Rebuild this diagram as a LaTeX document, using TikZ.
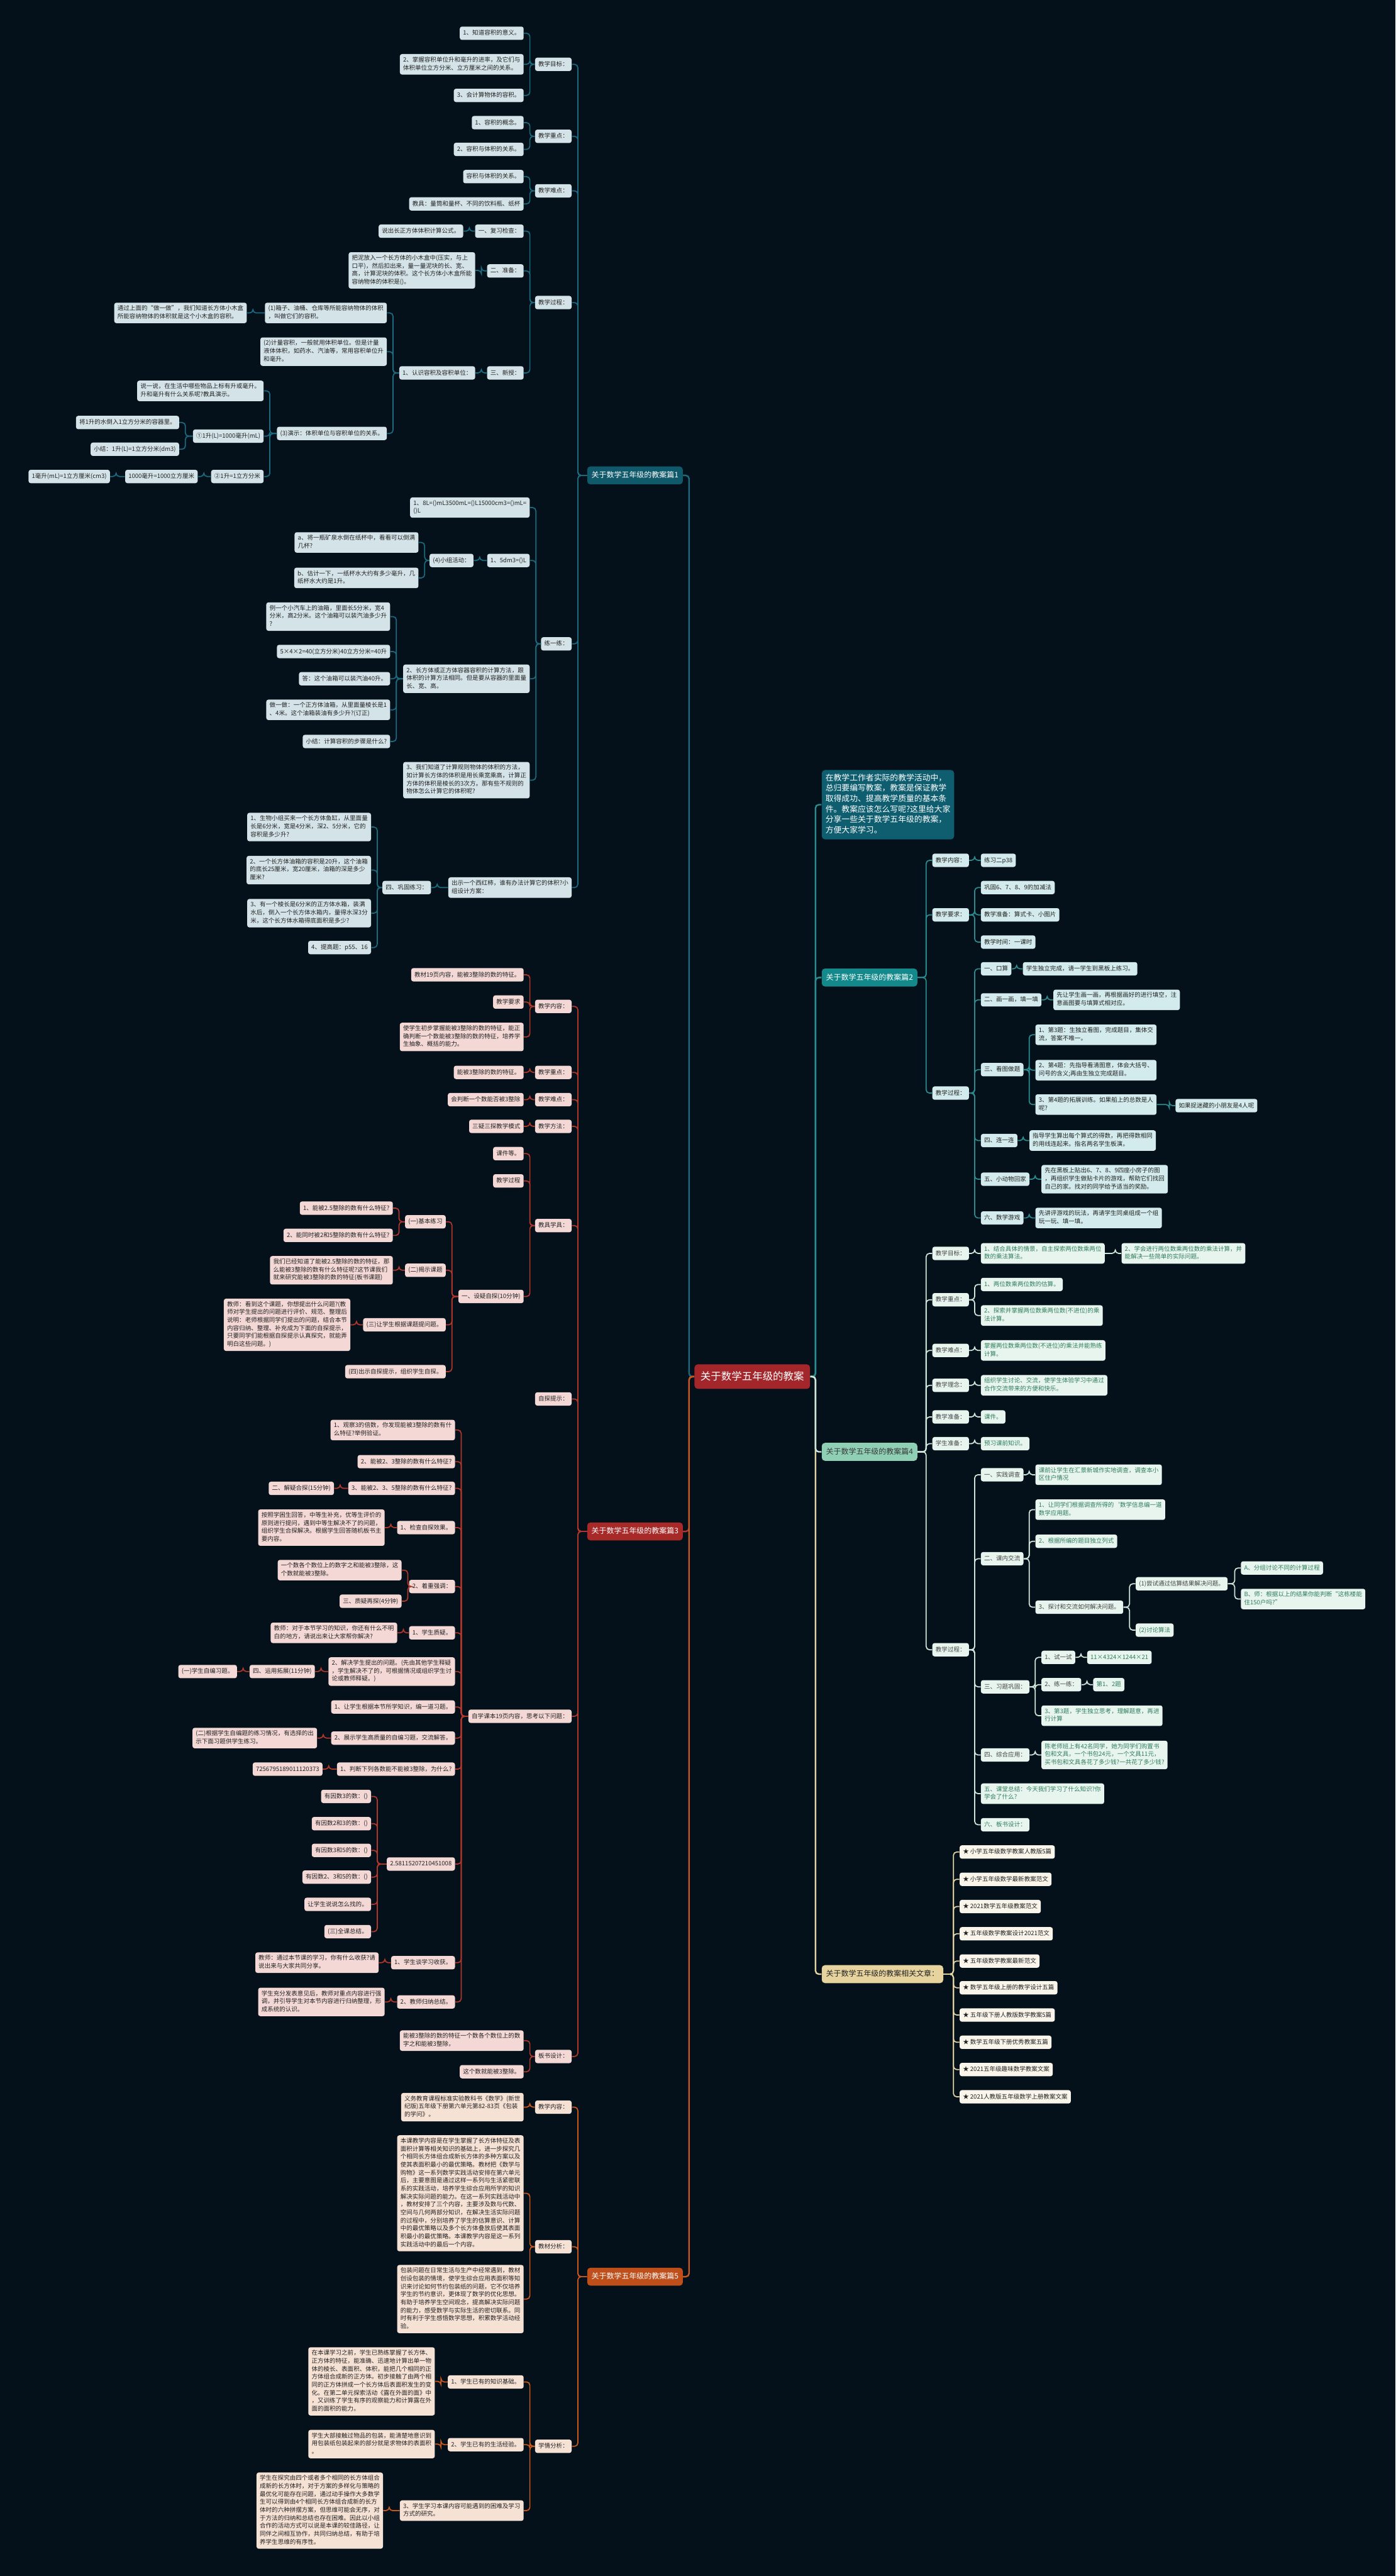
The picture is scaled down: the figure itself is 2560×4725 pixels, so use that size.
\documentclass[tikz,border=0pt]{standalone}
\usepackage{fontspec}
\setmainfont{Noto Sans CJK SC}
\usetikzlibrary{calc}
\definecolor{bgc}{HTML}{04111A}
\definecolor{rootc}{HTML}{A3262B}
\definecolor{tx}{HTML}{222222}
\definecolor{k1}{HTML}{1B6A7E}\definecolor{f1}{HTML}{D4E3E8}\definecolor{h1}{HTML}{10596A}
\definecolor{k2}{HTML}{2A8C8E}\definecolor{f2}{HTML}{D3EBEC}\definecolor{h2}{HTML}{13898B}
\definecolor{ic}{HTML}{0E5E70}
\definecolor{k3}{HTML}{B2372B}\definecolor{f3}{HTML}{F3D8D5}\definecolor{h3}{HTML}{A82A28}
\definecolor{k4}{HTML}{CFE6DA}\definecolor{f4}{HTML}{E8F5EF}\definecolor{t4}{HTML}{2E7D5B}\definecolor{h4}{HTML}{8FD0B5}
\definecolor{k5}{HTML}{C8581F}\definecolor{f5}{HTML}{F6E1D5}\definecolor{h5}{HTML}{BF4F1A}
\definecolor{k6}{HTML}{E3D3A3}\definecolor{f6}{HTML}{FAF5EA}\definecolor{h6}{HTML}{E6D39E}
\newcommand\msA{\rule[-1.85pt]{0pt}{7.25pt}}
\newcommand\msB{\rule[-2.2pt]{0pt}{8.8pt}}
\newcommand\msC{\rule[-2.4pt]{0pt}{9.6pt}}
\newcommand\msD{\rule[-2.9pt]{0pt}{12.1pt}}
\tikzset{
 nd/.style={rounded corners=2pt, inner xsep=3pt, inner ysep=2.5pt, align=left,
   font=\fontsize{5.5}{7.3}\selectfont, text=tx, execute at begin node=\msA, execute at end node=\msA},
 n1/.style={nd, fill=f1}, n2/.style={nd, fill=f2}, n3/.style={nd, fill=f3},
 n4/.style={nd, fill=f4, text=t4}, n4d/.style={nd, fill=f4, text=tx!85},
 n5/.style={nd, fill=f5}, n6/.style={nd, fill=f6},
 br/.style={rounded corners=3pt, inner xsep=4pt, inner ysep=3.85pt,
   font=\fontsize{6.9}{8.8}\selectfont, text=white, execute at begin node=\msB},
 rootbox/.style={rounded corners=3pt, fill=rootc, inner xsep=5.5pt, inner ysep=5.2pt,
   font=\fontsize{9.5}{12}\selectfont, text=white, execute at begin node=\msD},
 introbox/.style={rounded corners=3pt, fill=ic, inner xsep=3.5pt, inner ysep=3.45pt, align=left,
   font=\fontsize{7.4}{9.6}\selectfont, text=white, execute at begin node=\msC, execute at end node=\msC},
 L/.style={anchor=east}, R/.style={anchor=west},
 lc/.style={rounded corners=3pt, line width=1pt, to path={(\tikztostart) -| ($(\tikztotarget)+(11,0)$) -- (\tikztotarget)}},
 rc/.style={rounded corners=3pt, line width=1pt, to path={(\tikztostart) -| ($(\tikztotarget)+(-11,0)$) -- (\tikztotarget)}}
}
\newcommand\lks[3]{\foreach \q in {#3}{\draw[#1,lc] (#2.west) to (\q.east);}}
\newcommand\rks[3]{\foreach \q in {#3}{\draw[#1,rc] (#2.east) to (\q.west);}}
\begin{document}
\begin{tikzpicture}[x=0.5pt,y=-0.5pt]
\fill[bgc] (0,0) rectangle (2560,4725);
\useasboundingbox (0,0) rectangle (2560,4725);

\node[rootbox] (root) at (1380,2525) {关于数学五年级的教案};

% ===== 篇1 =====
\node[br, fill=h1, L] (P1) at (1253,872) {关于数学五年级的教案篇1};
\node[n1,L] (A1) at (1049,118) {教学目标：};
\node[n1,L] (A2) at (1049,250) {教学重点：};
\node[n1,L] (A3) at (1049,350) {教学难点：};
\node[n1,L] (A4) at (1049,555) {教学过程：};
\node[n1,L] (A5) at (1049,1181) {练一练：};
\node[n1,L] (A6) at (1049,1628) {出示一个西红柿，谁有办法计算它的体积?小\\组设计方案：};
\node[n1,L] (A11) at (961,61) {1、知道容积的意义。};
\node[n1,L] (A12) at (961,118) {2、掌握容积单位升和毫升的进率，及它们与\\体积单位立方分米、立方厘米之间的关系。};
\node[n1,L] (A13) at (961,175) {3、会计算物体的容积。};
\node[n1,L] (A21) at (961,225) {1、容积的概念。};
\node[n1,L] (A22) at (961,274) {2、容积与体积的关系。};
\node[n1,L] (A31) at (961,324) {容积与体积的关系。};
\node[n1,L] (A32) at (961,374) {教具：量筒和量杯、不同的饮料瓶、纸杯};
\node[n1,L] (A41) at (961,424) {一、复习检查：};
\node[n1,L] (A42) at (961,497) {二、准备：};
\node[n1,L] (A43) at (961,684) {三、新授：};
\node[n1,L] (A411) at (850,424) {说出长正方体体积计算公式。};
\node[n1,L] (A421) at (872,496) {把泥放入一个长方体的小木盒中(压实，与上\\口平)，然后扣出来，量一量泥块的长、宽、\\高，计算泥块的体积。这个长方体小木盒所能\\容纳物体的体积是()。};
\node[n1,L] (A431) at (872,684) {1、认识容积及容积单位：};
\node[n1,L] (B1) at (710,574) {(1)箱子、油桶、仓库等所能容纳物体的体积\\，叫做它们的容积。};
\node[n1,L] (B2) at (710,645) {(2)计量容积，一般就用体积单位。但是计量\\液体体积，如药水、汽油等，常用容积单位升\\和毫升。};
\node[n1,L] (B3) at (710,795) {(3)演示：体积单位与容积单位的关系。};
\node[n1,L] (B11) at (453,574) {通过上面的“做一做”，我们知道长方体小木盒\\所能容纳物体的体积就是这个小木盒的容积。};
\node[n1,L] (B31) at (484,717) {说一说，在生活中哪些物品上标有升或毫升。\\升和毫升有什么关系呢?教具演示。};
\node[n1,L] (B32) at (484,800) {①1升(L)=1000毫升(mL)};
\node[n1,L] (B33) at (484,874) {②1升=1立方分米};
\node[n1,L] (B321) at (329,775) {将1升的水倒入1立方分米的容器里。};
\node[n1,L] (B322) at (329,824) {小结：1升(L)=1立方分米(dm3)};
\node[n1,L] (B331) at (363,874) {1000毫升=1000立方厘米};
\node[n1,L] (B332) at (202,874) {1毫升(mL)=1立方厘米(cm3)};
\node[n1,L] (C1) at (972,931) {1、8L=()mL3500mL=()L15000cm3=()mL=\\()L};
\node[n1,L] (C2) at (972,1028) {1、5dm3=()L};
\node[n1,L] (C3) at (972,1245) {2、长方体或正方体容器容积的计算方法，跟\\体积的计算方法相同。但是要从容器的里面量\\长、宽、高。};
\node[n1,L] (C4) at (972,1431) {3、我们知道了计算规则物体的体积的方法，\\如计算长方体的体积是用长乘宽乘高，计算正\\方体的体积是棱长的3次方。那有些不规则的\\物体怎么计算它的体积呢?};
\node[n1,L] (C21) at (869,1028) {(4)小组活动：};
\node[n1,L] (C211) at (768,995) {a、将一瓶矿泉水倒在纸杯中，看看可以倒满\\几杯?};
\node[n1,L] (C212) at (768,1060) {b、估计一下，一纸杯水大约有多少毫升，几\\纸杯水大约是1升。};
\node[n1,L] (C31) at (716,1131) {例一个小汽车上的油箱，里面长5分米，宽4\\分米，高2分米。这个油箱可以装汽油多少升\\?};
\node[n1,L] (C32) at (716,1195) {5×4×2=40(立方分米)40立方分米=40升};
\node[n1,L] (C33) at (716,1245) {答：这个油箱可以装汽油40升。};
\node[n1,L] (C34) at (716,1302) {做一做：一个正方体油箱，从里面量棱长是1\\、4米。这个油箱装油有多少升?(订正)};
\node[n1,L] (C35) at (716,1360) {小结：计算容积的步骤是什么?};
\node[n1,L] (D1) at (791,1628) {四、巩固练习：};
\node[n1,L] (D11) at (681,1517) {1、生物小组买来一个长方体鱼缸，从里面量\\长是6分米，宽是4分米，深2、5分米，它的\\容积是多少升?};
\node[n1,L] (D12) at (681,1596) {2、一个长方体油箱的容积是20升，这个油箱\\的底长25厘米，宽20厘米，油箱的深是多少\\厘米?};
\node[n1,L] (D13) at (681,1675) {3、有一个棱长是6分米的正方体水箱，装满\\水后，倒入一个长方体水箱内，量得水深3分\\米，这个长方体水箱得底面积是多少?};
\node[n1,L] (D14) at (681,1738) {4、提高题：p55、16};

\lks{k1}{P1}{A1,A2,A3,A4,A5,A6}
\lks{k1}{A1}{A11,A12,A13}
\lks{k1}{A2}{A21,A22}
\lks{k1}{A3}{A31,A32}
\lks{k1}{A4}{A41,A42,A43}
\lks{k1}{A41}{A411}
\lks{k1}{A42}{A421}
\lks{k1}{A43}{A431}
\lks{k1}{A431}{B1,B2,B3}
\lks{k1}{B1}{B11}
\lks{k1}{B3}{B31,B32,B33}
\lks{k1}{B32}{B321,B322}
\lks{k1}{B33}{B331}
\lks{k1}{B331}{B332}
\lks{k1}{A5}{C1,C2,C3,C4}
\lks{k1}{C2}{C21}
\lks{k1}{C21}{C211,C212}
\lks{k1}{C3}{C31,C32,C33,C34,C35}
\lks{k1}{A6}{D1}
\lks{k1}{D1}{D11,D12,D13,D14}

% ===== 篇3 =====
\node[br, fill=h3, L] (P3) at (1253,2809) {关于数学五年级的教案篇3};
\node[n3,L] (E1) at (1049,1846) {教学内容：};
\node[n3,L] (E2) at (1049,1967) {教学重点：};
\node[n3,L] (E3) at (1049,2017) {教学难点：};
\node[n3,L] (E4) at (1049,2066) {教学方法：};
\node[n3,L] (E5) at (1049,2248) {教具学具：};
\node[n3,L] (E6) at (1049,2566) {自探提示：};
\node[n3,L] (E7) at (1049,3148) {自学课本19页内容，思考以下问题：};
\node[n3,L] (E8) at (1049,3772) {板书设计：};
\node[n3,L] (E11) at (961,1788) {教材19页内容，能被3整除的数的特征。};
\node[n3,L] (E12) at (961,1838) {教学要求};
\node[n3,L] (E13) at (961,1902) {使学生初步掌握能被3整除的数的特征，能正\\确判断一个数能被3整除的数的特征，培养学\\生抽象、概括的能力。};
\node[n3,L] (E21) at (961,1967) {能被3整除的数的特征。};
\node[n3,L] (E31) at (961,2017) {会判断一个数能否被3整除};
\node[n3,L] (E41) at (961,2066) {三疑三探教学模式};
\node[n3,L] (E51) at (961,2116) {课件等。};
\node[n3,L] (E52) at (961,2166) {教学过程};
\node[n3,L] (E53) at (961,2378) {一、设疑自探(10分钟)};
\node[n3,L] (F1) at (818,2241) {(一)基本练习};
\node[n3,L] (F2) at (818,2330) {(二)揭示课题};
\node[n3,L] (F3) at (818,2430) {(三)让学生根据课题提问题。};
\node[n3,L] (F4) at (818,2516) {(四)出示自探提示，组织学生自探。};
\node[n3,L] (F11) at (721,2216) {1、能被2.5整除的数有什么特征?};
\node[n3,L] (F12) at (721,2266) {2、能同时被2和5整除的数有什么特征?};
\node[n3,L] (F21) at (721,2330) {我们已经知道了能被2.5整除的数的特征，那\\么能被3整除的数有什么特征呢?这节课我们\\就来研究能被3整除的数的特征(板书课题)};
\node[n3,L] (F31) at (643,2430) {教师：看到这个课题，你想提出什么问题?(教\\师对学生提出的问题进行评价、规范、整理后\\说明：老师根据同学们提出的问题，结合本节\\内容归纳、整理、补充成为下面的自探提示，\\只要同学们能根据自探提示认真探究，就能弄\\明白这些问题。)};
\node[n3,L] (G1) at (835,2623) {1、观察3的倍数，你发现能被3整除的数有什\\么特征?举例验证。};
\node[n3,L] (G2) at (835,2681) {2、能被2、3整除的数有什么特征?};
\node[n3,L] (G3) at (835,2730) {3、能被2、3、5整除的数有什么特征?};
\node[n3,L] (G4) at (835,2802) {1、检查自探效果。};
\node[n3,L] (G5) at (835,2910) {2、着重强调：};
\node[n3,L] (G6) at (835,2995) {1、学生质疑。};
\node[n3,L] (G7) at (835,3066) {2、解决学生提出的问题。(先由其他学生释疑\\，学生解决不了的，可根据情况或组织学生讨\\论或教师释疑。)};
\node[n3,L] (G8) at (835,3131) {1、让学生根据本节所学知识，编一道习题。};
\node[n3,L] (G9) at (835,3188) {2、展示学生高质量的自编习题，交流解答。};
\node[n3,L] (G10) at (835,3245) {1、判断下列各数能不能被3整除，为什么?};
\node[n3,L] (G11) at (835,3419) {2.58115207210451008};
\node[n3,L] (G12) at (835,3600) {1、学生谈学习收获。};
\node[n3,L] (G13) at (835,3672) {2、教师归纳总结。};
\node[n3,L] (G31) at (613,2730) {二、解疑合探(15分钟)};
\node[n3,L] (G41) at (706,2802) {按照学困生回答，中等生补充，优等生评价的\\原则进行提问，遇到中等生解决不了的问题，\\组织学生合探解决。根据学生回答随机板书主\\要内容。};
\node[n3,L] (G51) at (737,2880) {一个数各个数位上的数字之和能被3整除，这\\个数就能被3整除。};
\node[n3,L] (G52) at (737,2937) {三、质疑再探(4分钟)};
\node[n3,L] (G61) at (729,2995) {教师：对于本节学习的知识，你还有什么不明\\白的地方，请说出来让大家帮你解决?};
\node[n3,L] (G71) at (578,3066) {四、运用拓展(11分钟)};
\node[n3,L] (G711) at (435,3066) {(一)学生自编习题。};
\node[n3,L] (G91) at (582,3188) {(二)根据学生自编题的练习情况，有选择的出\\示下面习题供学生练习。};
\node[n3,L] (G101) at (592,3245) {7256795189011120373};
\node[n3,L] (G111) at (681,3295) {有因数3的数：()};
\node[n3,L] (G112) at (681,3345) {有因数2和3的数：()};
\node[n3,L] (G113) at (681,3394) {有因数3和5的数：()};
\node[n3,L] (G114) at (681,3443) {有因数2、3和5的数：()};
\node[n3,L] (G115) at (681,3493) {让学生说说怎么找的。};
\node[n3,L] (G116) at (681,3543) {(三)全课总结。};
\node[n3,L] (G121) at (695,3600) {教师：通过本节课的学习，你有什么收获?请\\说出来与大家共同分享。};
\node[n3,L] (G131) at (706,3672) {学生充分发表意见后，教师对重点内容进行强\\调，并引导学生对本节内容进行归纳整理，形\\成系统的认识。};
\node[n3,L] (E81) at (961,3743) {能被3整除的数的特征一个数各个数位上的数\\字之和能被3整除，};
\node[n3,L] (E82) at (961,3800) {这个数就能被3整除。};

\lks{k3}{P3}{E1,E2,E3,E4,E5,E6,E7,E8}
\lks{k3}{E1}{E11,E12,E13}
\lks{k3}{E2}{E21}
\lks{k3}{E3}{E31}
\lks{k3}{E4}{E41}
\lks{k3}{E5}{E51,E52,E53}
\lks{k3}{E53}{F1,F2,F3,F4}
\lks{k3}{F1}{F11,F12}
\lks{k3}{F2}{F21}
\lks{k3}{F3}{F31}
\lks{k3}{E7}{G1,G2,G3,G4,G5,G6,G7,G8,G9,G10,G11,G12,G13}
\lks{k3}{G3}{G31}
\lks{k3}{G4}{G41}
\lks{k3}{G5}{G51,G52}
\lks{k3}{G6}{G61}
\lks{k3}{G7}{G71}
\lks{k3}{G71}{G711}
\lks{k3}{G9}{G91}
\lks{k3}{G10}{G101}
\lks{k3}{G11}{G111,G112,G113,G114,G115,G116}
\lks{k3}{G12}{G121}
\lks{k3}{G13}{G131}
\lks{k3}{E8}{E81,E82}

% ===== 篇5 =====
\node[br, fill=h5, L] (P5) at (1253,4176) {关于数学五年级的教案篇5};
\node[n5,L] (H1) at (1049,3865) {教学内容：};
\node[n5,L] (H2) at (1049,4121) {教材分析：};
\node[n5,L] (H3) at (1049,4487) {学情分析：};
\node[n5,L] (H11) at (961,3865) {义务教育课程标准实验教科书《数学》(新世\\纪版)五年级下册第六单元第82-83页《包装\\的学问》。};
\node[n5,L] (H21) at (961,4023) {本课教学内容是在学生掌握了长方体特征及表\\面积计算等相关知识的基础上，进一步探究几\\个相同长方体组合成新长方体的多种方案以及\\使其表面积最小的最优策略。教材把《数学与\\购物》这一系列数学实践活动安排在第六单元\\后，主要意图是通过这样一系列与生活紧密联\\系的实践活动，培养学生综合应用所学的知识\\解决实际问题的能力。在这一系列实践活动中\\，教材安排了三个内容，主要涉及数与代数、\\空间与几何两部分知识，在解决生活实际问题\\的过程中，分别培养了学生的估算意识、计算\\中的最优策略以及多个长方体叠放后使其表面\\积最小的最优策略。本课教学内容是这一系列\\实践活动中的最后一个内容。};
\node[n5,L] (H22) at (961,4217) {包装问题在日常生活与生产中经常遇到，教材\\创设包装的情境，使学生综合应用表面积等知\\识来讨论如何节约包装纸的问题，它不仅培养\\学生的节约意识，更体现了数学的优化思想。\\有助于培养学生空间观念，提高解决实际问题\\的能力，感受数学与实际生活的密切联系。同\\时有利于学生感悟数学思想，积累数学活动经\\验。};
\node[n5,L] (H31) at (961,4369) {1、学生已有的知识基础。};
\node[n5,L] (H32) at (961,4484) {2、学生已有的生活经验。};
\node[n5,L] (H33) at (961,4605) {3、学生学习本课内容可能遇到的困难及学习\\方式的研究。};
\node[n5,L] (H311) at (798,4368) {在本课学习之前，学生已熟练掌握了长方体、\\正方体的特征，能准确、迅速地计算出单一物\\体的棱长、表面积、体积，能把几个相同的正\\方体组合成新的正方体。初步接触了由两个相\\同的正方体拼成一个长方体后表面积发生的变\\化。在第二单元探索活动《露在外面的面》中\\，又训练了学生有序的观察能力和计算露在外\\面的面积的能力。};
\node[n5,L] (H321) at (798,4483) {学生大部接触过物品的包装，能清楚地意识到\\用包装纸包装起来的部分就是求物体的表面积\\。};
\node[n5,L] (H331) at (703,4605) {学生在探究由四个或者多个相同的长方体组合\\成新的长方体时，对于方案的多样化与策略的\\最优化可能存在问题，通过动手操作大多数学\\生可以得到由4个相同长方体组合成新的长方\\体时的六种拼摆方案，但思维可能会无序，对\\于方法的归纳和总结也存在困难。因此以小组\\合作的活动方式可以说是本课的较佳路径，让\\同伴之间相互协作，共同归纳总结，有助于培\\养学生思维的有序性。};

\lks{k5}{P5}{H1,H2,H3}
\lks{k5}{H1}{H11}
\lks{k5}{H2}{H21,H22}
\lks{k5}{H3}{H31,H32,H33}
\lks{k5}{H31}{H311}
\lks{k5}{H32}{H321}
\lks{k5}{H33}{H331}

% ===== right: intro + 篇2 =====
\node[introbox, R] (IN) at (1507,1476) {在教学工作者实际的教学活动中，\\总归要编写教案，教案是保证教学\\取得成功、提高教学质量的基本条\\件。教案应该怎么写呢?这里给大家\\分享一些关于数学五年级的教案，\\方便大家学习。};
\node[br, fill=h2, R] (P2) at (1507,1793) {关于数学五年级的教案篇2};
\node[n2,R] (I1) at (1710,1578) {教学内容：};
\node[n2,R] (I2) at (1710,1678) {教学要求：};
\node[n2,R] (I3) at (1710,2005) {教学过程：};
\node[n2,R] (I11) at (1799,1578) {练习二p38};
\node[n2,R] (I21) at (1799,1628) {巩固6、7、8、9的加减法};
\node[n2,R] (I22) at (1799,1678) {教学准备：算式卡、小图片};
\node[n2,R] (I23) at (1799,1728) {教学时间：一课时};
\node[n2,R] (I31) at (1799,1777) {一、口算};
\node[n2,R] (I32) at (1799,1834) {二、画一画，填一填};
\node[n2,R] (I33) at (1799,1962) {三、看图做题};
\node[n2,R] (I34) at (1799,2092) {四、连一连};
\node[n2,R] (I35) at (1799,2163) {五、小动物回家};
\node[n2,R] (I36) at (1799,2234) {六、数学游戏};
\node[n2,R] (I311) at (1876,1777) {学生独立完成，请一学生到黑板上练习。};
\node[n2,R] (I321) at (1932,1834) {先让学生画一画，再根据画好的进行填空，注\\意画图要与填算式相对应。};
\node[n2,R] (I331) at (1899,1898) {1、第3题：生独立看图，完成题目，集体交\\流，答案不唯一。};
\node[n2,R] (I332) at (1899,1963) {2、第4题：先指导看清图意，体会大括号、\\问号的含义;再由生独立完成题目。};
\node[n2,R] (I333) at (1899,2026) {3、第4题的拓展训练。如果船上的总数是人\\呢?};
\node[n2,R] (I3331) at (2156,2028) {如果捉迷藏的小朋友是4人呢};
\node[n2,R] (I341) at (1888,2092) {指导学生算出每个算式的得数，再把得数相同\\的用线连起来。指名两名学生板演。};
\node[n2,R] (I351) at (1910,2163) {先在黑板上贴出6、7、8、9四座小房子的图\\，再组织学生做贴卡片的游戏，帮助它们找回\\自己的家。找对的同学给予适当的奖励。};
\node[n2,R] (I361) at (1899,2234) {先讲评游戏的玩法，再请学生同桌组成一个组\\玩一玩、填一填。};

\rks{k2}{P2}{I1,I2,I3}
\rks{k2}{I1}{I11}
\rks{k2}{I2}{I21,I22,I23}
\rks{k2}{I3}{I31,I32,I33,I34,I35,I36}
\rks{k2}{I31}{I311}
\rks{k2}{I32}{I321}
\rks{k2}{I33}{I331,I332,I333}
\rks{k2}{I333}{I3331}
\rks{k2}{I34}{I341}
\rks{k2}{I35}{I351}
\rks{k2}{I36}{I361}

% ===== 篇4 =====
\node[br, fill=h4, text=tx!90, R] (P4) at (1507,2663) {关于数学五年级的教案篇4};
\node[n4d,R] (J1) at (1710,2299) {教学目标：};
\node[n4d,R] (J2) at (1710,2384) {教学重点：};
\node[n4d,R] (J3) at (1710,2477) {教学难点：};
\node[n4d,R] (J4) at (1710,2541) {教学理念：};
\node[n4d,R] (J5) at (1710,2599) {教学准备：};
\node[n4d,R] (J6) at (1710,2648) {学生准备：};
\node[n4d,R] (J7) at (1710,3026) {教学过程：};
\node[n4,R] (J11) at (1799,2299) {1、结合具体的情景，自主探索两位数乘两位\\数的乘法算法。};
\node[n4,R] (J111) at (2057,2299) {2、学会进行两位数乘两位数的乘法计算，并\\能解决一些简单的实际问题。};
\node[n4,R] (J21) at (1799,2356) {1、两位数乘两位数的估算。};
\node[n4,R] (J22) at (1799,2413) {2、探索并掌握两位数乘两位数(不进位)的乘\\法计算。};
\node[n4,R] (J31) at (1799,2477) {掌握两位数乘两位数(不进位)的乘法并能熟练\\计算。};
\node[n4,R] (J41) at (1799,2541) {组织学生讨论、交流，使学生体验学习中通过\\合作交流带来的方便和快乐。};
\node[n4,R] (J51) at (1799,2599) {课件。};
\node[n4,R] (J61) at (1799,2648) {预习课前知识。};
\node[n4d,R] (K1) at (1799,2705) {一、实践调查};
\node[n4d,R] (K2) at (1799,2859) {二、课内交流};
\node[n4d,R] (K3) at (1799,3094) {三、习题巩固：};
\node[n4d,R] (K4) at (1799,3219) {四、综合应用：};
\node[n4,R] (K5) at (1799,3290) {五、课堂总结：今天我们学习了什么知识?你\\学会了什么?};
\node[n4,R] (K6) at (1799,3347) {六、板书设计：};
\node[n4,R] (K11) at (1899,2705) {课前让学生在汇景新城作实地调查，调查本小\\区住户情况};
\node[n4,R] (K21) at (1899,2769) {1、让同学们根据调查所得的`数学信息编一道\\数学应用题。};
\node[n4,R] (K22) at (1899,2827) {2、根据所编的题目独立列式};
\node[n4d,R] (K23) at (1899,2948) {3、探讨和交流如何解决问题。};
\node[n4d,R] (K231) at (2083,2905) {(1)尝试通过估算结果解决问题。};
\node[n4,R] (K232) at (2083,2990) {(2)讨论算法};
\node[n4,R] (K2311) at (2276,2876) {A、分组讨论不同的计算过程};
\node[n4,R] (K2312) at (2276,2933) {B、师：根据以上的结果你能判断“这栋楼能\\住150户吗?”};
\node[n4d,R] (K31) at (1910,3040) {1、试一试};
\node[n4d,R] (K32) at (1910,3090) {2、练一练：};
\node[n4,R] (K33) at (1910,3147) {3、第3题，学生独立思考，理解题意，再进\\行计算};
\node[n4,R] (K311) at (1994,3040) {11×4324×1244×21};
\node[n4,R] (K321) at (2005,3090) {第1、2题};
\node[n4,R] (K41) at (1910,3219) {陈老师班上有42名同学，她为同学们购置书\\包和文具，一个书包24元，一个文具11元，\\买书包和文具各花了多少钱?一共花了多少钱?};

\rks{k4}{P4}{J1,J2,J3,J4,J5,J6,J7}
\rks{k4}{J1}{J11}
\rks{k4}{J11}{J111}
\rks{k4}{J2}{J21,J22}
\rks{k4}{J3}{J31}
\rks{k4}{J4}{J41}
\rks{k4}{J5}{J51}
\rks{k4}{J6}{J61}
\rks{k4}{J7}{K1,K2,K3,K4,K5,K6}
\rks{k4}{K1}{K11}
\rks{k4}{K2}{K21,K22,K23}
\rks{k4}{K23}{K231,K232}
\rks{k4}{K231}{K2311,K2312}
\rks{k4}{K3}{K31,K32,K33}
\rks{k4}{K31}{K311}
\rks{k4}{K32}{K321}
\rks{k4}{K4}{K41}

% ===== 相关文章 =====
\node[br, fill=h6, text=tx, R] (P6) at (1507,3621) {关于数学五年级的教案相关文章：};
\node[n6,R] (M1) at (1760,3397) {★ 小学五年级数学教案人教版5篇};
\node[n6,R] (M2) at (1760,3447) {★ 小学五年级数学最新教案范文};
\node[n6,R] (M3) at (1760,3497) {★ 2021数学五年级教案范文};
\node[n6,R] (M4) at (1760,3547) {★ 五年级数学教案设计2021范文};
\node[n6,R] (M5) at (1760,3597) {★ 五年级数学教案最新范文};
\node[n6,R] (M6) at (1760,3646) {★ 数学五年级上册的教学设计五篇};
\node[n6,R] (M7) at (1760,3696) {★ 五年级下册人教版数学教案5篇};
\node[n6,R] (M8) at (1760,3746) {★ 数学五年级下册优秀教案五篇};
\node[n6,R] (M9) at (1760,3796) {★ 2021五年级趣味数学教案文案};
\node[n6,R] (M10) at (1760,3846) {★ 2021人教版五年级数学上册教案文案};
\rks{k6}{P6}{M1,M2,M3,M4,M5,M6,M7,M8,M9,M10}

% ===== root links =====
\draw[k1,lc,line width=1.4pt] (root.west) to (P1.east);
\draw[k3,lc,line width=1.4pt] (root.west) to (P3.east);
\draw[k5,lc,line width=1.4pt] (root.west) to (P5.east);
\draw[k2,rc,line width=1.4pt] (root.east) to (IN.west);
\draw[k2,rc,line width=1.4pt] (root.east) to (P2.west);
\draw[k6,rc,line width=1.4pt] (root.east) to (P6.west);
\draw[k4,rc,line width=1.4pt] (root.east) to (P4.west);
\end{tikzpicture}
\end{document}
